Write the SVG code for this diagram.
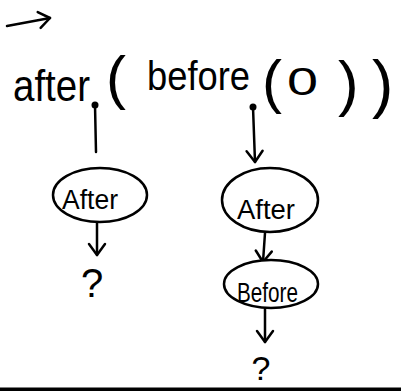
<svg xmlns="http://www.w3.org/2000/svg" width="401" height="391" viewBox="0 0 401 391">
<style>
.ln{fill:none;stroke:#000;stroke-width:2.5;stroke-linecap:round;stroke-linejoin:round}
.t{font-family:"Liberation Sans",Arial,sans-serif;fill:#000}
.nd{fill:#fff;stroke:#000;stroke-width:2.5}
.lbl{font-family:"Liberation Sans",Arial,sans-serif;font-size:27px;fill:#000}
.q{font-family:"Liberation Sans",Arial,sans-serif;text-anchor:middle;fill:#000}
</style>
<defs>
<marker id="ah" viewBox="0 0 14 18" refX="12" refY="9" markerWidth="14" markerHeight="18" markerUnits="userSpaceOnUse" orient="auto" overflow="visible">
<path d="M1,1 L12,9 L1,17" fill="none" stroke="#000" stroke-width="2.5" stroke-linecap="round" stroke-linejoin="round"/>
</marker>
</defs>
<rect width="401" height="391" fill="#fff"/>
<g id="expression">
<text class="t" x="13" y="101" font-size="44" textLength="77" lengthAdjust="spacingAndGlyphs">after</text>
<text class="t" x="106" y="98" font-size="60">(</text>
<text class="t" x="147" y="90" font-size="40" textLength="103" lengthAdjust="spacingAndGlyphs">before</text>
<text class="t" x="262" y="102" font-size="60">(</text>
<text class="t" x="287" y="95" font-size="38" textLength="31" lengthAdjust="spacingAndGlyphs">0</text>
<text class="t" x="338" y="104" font-size="62">)</text>
<text class="t" x="372" y="106" font-size="64">)</text>
</g>
<g id="connectors">
<path class="ln" d="M7,26 L50,18" marker-end="url(#ah)"/>
<circle cx="95" cy="105" r="3.5" fill="#000"/>
<path class="ln" d="M95,105 L96,152"/>
<circle cx="253" cy="107" r="3.5" fill="#000"/>
<path class="ln" d="M253,107 L255,162" marker-end="url(#ah)"/>
<path class="ln" d="M97,222 L97,255" marker-end="url(#ah)"/>
<path class="ln" d="M265,233 L263,262" marker-end="url(#ah)"/>
<path class="ln" d="M265,309 L265,342" marker-end="url(#ah)"/>
</g>
<g id="node-after-left">
<ellipse class="nd" cx="100" cy="195" rx="47" ry="27"/>
<text class="lbl" x="62" y="209" textLength="56" lengthAdjust="spacingAndGlyphs">After</text>
</g>
<g id="node-after-right">
<ellipse class="nd" cx="270" cy="200" rx="48" ry="32"/>
<text class="lbl" x="237" y="219" textLength="58" lengthAdjust="spacingAndGlyphs">After</text>
</g>
<g id="node-before">
<ellipse class="nd" cx="271" cy="284" rx="47" ry="24"/>
<text class="lbl" x="237" y="302" textLength="61" lengthAdjust="spacingAndGlyphs">Before</text>
</g>
<g id="q-left">
<text class="q" x="92" y="297" font-size="40">?</text>
</g>
<g id="q-right">
<text class="q" x="261" y="380" font-size="34">?</text>
</g>
<rect x="0" y="387.5" width="401" height="3.5" fill="#000"/>
</svg>
